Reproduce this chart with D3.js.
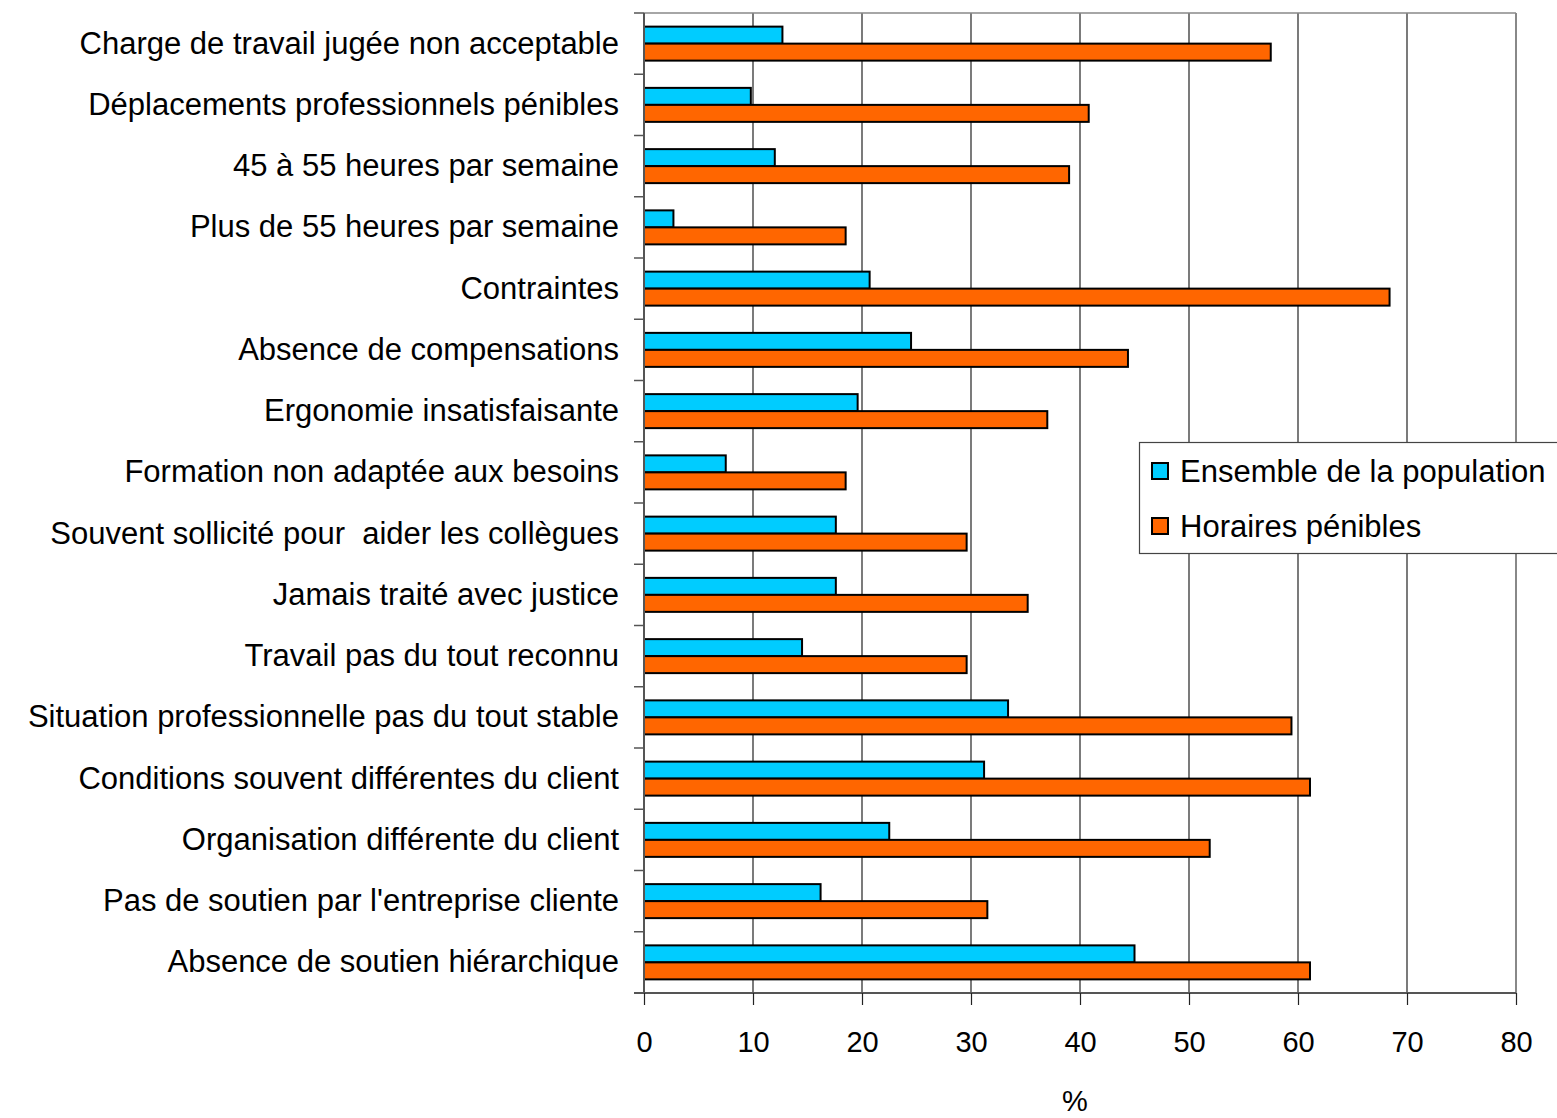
<!DOCTYPE html>
<html>
<head>
<meta charset="utf-8">
<script src="https://cdn.jsdelivr.net/npm/d3@7/dist/d3.min.js"></script>
<style>
  html, body { margin: 0; padding: 0; background: #fff; }
  svg { display: block; font-family: "Liberation Sans", Arial, sans-serif; }
</style>
</head>
<body>
<svg id="chart" width="1557" height="1118"></svg>
<script>
// Categories, top to bottom
const categories = [
  "Charge de travail jugée non acceptable",
  "Déplacements professionnels pénibles",
  "45 à 55 heures par semaine",
  "Plus de 55 heures par semaine",
  "Contraintes",
  "Absence de compensations",
  "Ergonomie insatisfaisante",
  "Formation non adaptée aux besoins",
  "Souvent sollicité pour  aider les collègues",
  "Jamais traité avec justice",
  "Travail pas du tout reconnu",
  "Situation professionnelle pas du tout stable",
  "Conditions souvent différentes du client",
  "Organisation différente du client",
  "Pas de soutien par l'entreprise cliente",
  "Absence de soutien hiérarchique"
];

const seriesNames = ["Ensemble de la population", "Horaires pénibles"];
const seriesColors = ["#00CCFF", "#FF6600"];

// Percentages per category
const ensemble = [12.7, 9.8, 12.0, 2.7, 20.7, 24.5, 19.6, 7.5, 17.6, 17.6, 14.5, 33.4, 31.2, 22.5, 16.2, 45.0];
const horaires = [57.5, 40.8, 39.0, 18.5, 68.4, 44.4, 37.0, 18.5, 29.6, 35.2, 29.6, 59.4, 61.1, 51.9, 31.5, 61.1];

const xTicks = [0, 10, 20, 30, 40, 50, 60, 70, 80];
const xTitle = "%";

const svg = d3.select("#chart");

const plotLeft = 644, plotRight = 1516, plotTop = 13, plotBottom = 993;

const x = d3.scaleLinear().domain([0, 80]).range([plotLeft, plotRight]);
const y = d3.scaleBand().domain(categories).range([plotTop, plotBottom])
  .paddingInner(0.445).paddingOuter(0.2225);
const ySeries = d3.scaleBand().domain(seriesNames).range([0, y.bandwidth()]);

// Vertical gridlines
svg.append("g").selectAll("line")
  .data(xTicks.filter(t => t > 0 && t < 80))
  .join("line")
  .attr("x1", d => x(d)).attr("x2", d => x(d))
  .attr("y1", plotTop).attr("y2", plotBottom)
  .attr("stroke", "#222").attr("stroke-width", 1.2);

// Plot frame (top and right)
svg.append("line").attr("x1", plotLeft).attr("x2", plotRight).attr("y1", plotTop).attr("y2", plotTop)
  .attr("stroke", "#888").attr("stroke-width", 1.5);
svg.append("line").attr("x1", plotRight).attr("x2", plotRight).attr("y1", plotTop).attr("y2", plotBottom)
  .attr("stroke", "#888").attr("stroke-width", 2);

// Bars
const rows = categories.map((c, i) => ({ cat: c, vals: [ensemble[i], horaires[i]] }));
const groups = svg.append("g").selectAll("g")
  .data(rows).join("g")
  .attr("transform", d => `translate(0,${y(d.cat)})`);

groups.selectAll("rect")
  .data(d => d.vals.map((v, j) => ({ v, s: seriesNames[j], j })))
  .join("rect")
  .attr("x", x(0))
  .attr("y", d => ySeries(d.s))
  .attr("width", d => x(d.v) - x(0))
  .attr("height", ySeries.bandwidth())
  .attr("fill", d => seriesColors[d.j])
  .attr("stroke", "#000")
  .attr("stroke-width", 2);

// Left axis with ticks at category boundaries
const step = y.step();
const boundaries = d3.range(categories.length + 1).map(i => plotTop + i * step);
svg.append("line").attr("x1", plotLeft).attr("x2", plotLeft).attr("y1", plotTop).attr("y2", plotBottom)
  .attr("stroke", "#555").attr("stroke-width", 2);
svg.append("g").selectAll("line").data(boundaries).join("line")
  .attr("x1", plotLeft - 10).attr("x2", plotLeft)
  .attr("y1", d => d).attr("y2", d => d)
  .attr("stroke", "#555").attr("stroke-width", 1.5);

svg.append("g").selectAll("text").data(categories).join("text")
  .attr("x", plotLeft - 25)
  .attr("y", d => y(d) + y.bandwidth() / 2 + 10)
  .attr("text-anchor", "end")
  .attr("font-size", 31)
  .attr("fill", "#000")
  .style("white-space", "pre")
  .text(d => d);

// Bottom axis
const xAxis = d3.axisBottom(x).tickValues(xTicks).tickSize(12).tickPadding(26);
const gx = svg.append("g").attr("transform", `translate(0,${plotBottom})`).call(xAxis);
gx.select(".domain").attr("stroke", "#555").attr("stroke-width", 2)
  .attr("d", `M${plotLeft - 10},0H${plotRight}`);
gx.selectAll(".tick line").attr("stroke", "#222").attr("stroke-width", 1.2);
gx.selectAll(".tick text").attr("font-size", 29).attr("fill", "#000")
  .attr("font-family", "Liberation Sans, Arial, sans-serif");

svg.append("text")
  .attr("x", x(40) - 5).attr("y", 1111)
  .attr("text-anchor", "middle")
  .attr("font-size", 29)
  .text(xTitle);

// Legend
const legend = svg.append("g");
legend.append("rect")
  .attr("x", 1139.5).attr("y", 442.5).attr("width", 430).attr("height", 111)
  .attr("fill", "#fff").attr("stroke", "#444").attr("stroke-width", 1.2);
seriesNames.forEach((name, i) => {
  const cy = 471 + i * 55;
  legend.append("rect")
    .attr("x", 1152).attr("y", cy - 8).attr("width", 16).attr("height", 16)
    .attr("fill", seriesColors[i]).attr("stroke", "#000").attr("stroke-width", 2);
  legend.append("text")
    .attr("x", 1180).attr("y", cy + 11)
    .attr("font-size", 31)
    .text(name);
});
</script>
</body>
</html>
